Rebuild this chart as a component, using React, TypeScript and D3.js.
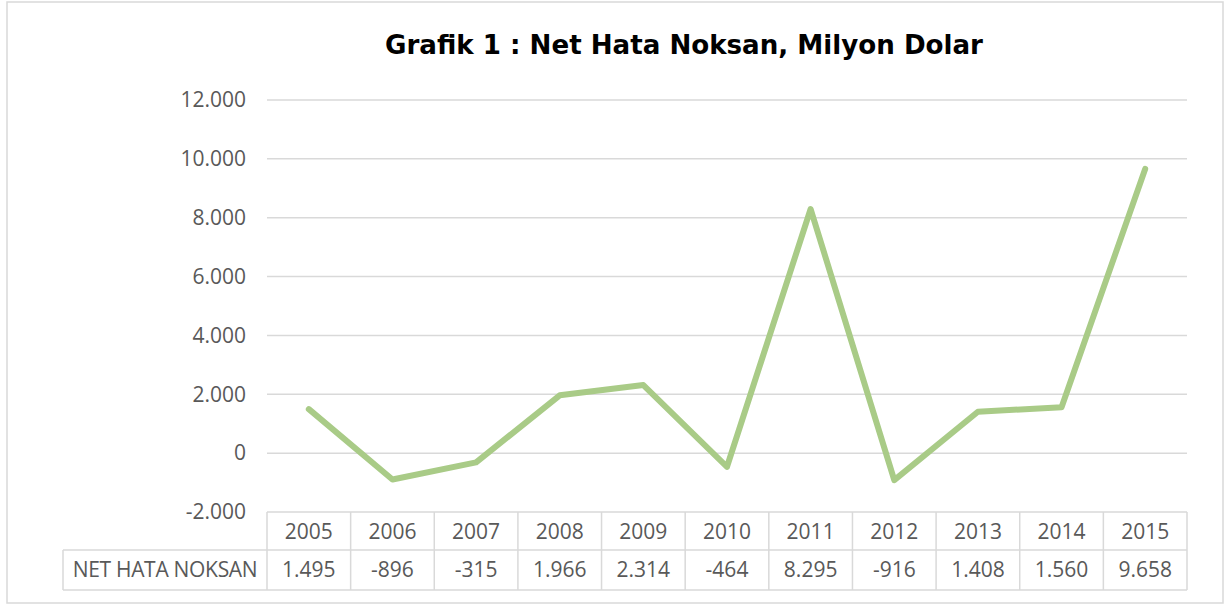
import React from "react";
import * as d3 from "d3";

const years = ["2005", "2006", "2007", "2008", "2009", "2010", "2011", "2012", "2013", "2014", "2015"];
const values = [1495, -896, -315, 1966, 2314, -464, 8295, -916, 1408, 1560, 9658];
const valueLabels = ["1.495", "-896", "-315", "1.966", "2.314", "-464", "8.295", "-916", "1.408", "1.560", "9.658"];
const yTicks = [-2000, 0, 2000, 4000, 6000, 8000, 10000, 12000];
const seriesName = "NET HATA NOKSAN";
const title = "Grafik 1 : Net Hata Noksan, Milyon Dolar";

const W = 1226;
const H = 606;
const plotLeft = 267;
const plotRight = 1187;
const plotTop = 100;
const plotBottom = 512;
const row1Bottom = 550;
const row2Bottom = 590;
const tableLeft = 63;

const fmt = (v: number) => {
  const s = Math.abs(v).toString().replace(/\B(?=(\d{3})+(?!\d))/g, ".");
  return (v < 0 ? "-" : "") + s;
};

export default function App() {
  const x = d3.scaleBand<string>().domain(years).range([plotLeft, plotRight]);
  const y = d3.scaleLinear().domain([-2000, 12000]).range([plotBottom, plotTop]);
  const line = d3
    .line<number>()
    .x((_, i) => (x(years[i]) as number) + x.bandwidth() / 2)
    .y((d) => y(d));

  const grid = "#D9D9D9";
  const txt = "#595959";
  const font = "'Open Sans', Calibri, sans-serif";

  return (
    <svg width={W} height={H} style={{ position: "absolute", left: 0, top: 0 }}>
      <rect x={0} y={0} width={W} height={H} fill="#fff" />
      <rect x={7} y={2} width={1216} height={601} fill="#fff" stroke={grid} strokeWidth={1.5} />
      <text
        x={385}
        y={54}
        fontFamily="'DejaVu Sans', Verdana, sans-serif"
        fontWeight="bold"
        fontSize={27}
        textLength={598}
        lengthAdjust="spacingAndGlyphs"
        fill="#000"
      >
        {title}
      </text>
      {yTicks.map((t) => (
        <g key={t}>
          {t > -2000 && (
            <line x1={plotLeft} x2={plotRight} y1={y(t)} y2={y(t)} stroke={grid} strokeWidth={1.5} />
          )}
          <text
            x={246}
            y={y(t)}
            dy="0.35em"
            textAnchor="end"
            fontFamily={font}
            fontSize={21}
            fill={txt}
          >
            {fmt(t)}
          </text>
        </g>
      ))}
      {/* data table */}
      <g stroke={grid} strokeWidth={1.5} fill="none">
        <line x1={plotLeft} x2={plotRight} y1={plotBottom} y2={plotBottom} />
        <line x1={tableLeft} x2={plotRight} y1={row1Bottom} y2={row1Bottom} />
        <line x1={tableLeft} x2={plotRight} y1={row2Bottom} y2={row2Bottom} />
        <line x1={tableLeft} x2={tableLeft} y1={row1Bottom} y2={row2Bottom} />
        {years.map((yr) => (
          <line key={yr} x1={x(yr)} x2={x(yr)} y1={plotBottom} y2={row2Bottom} />
        ))}
        <line x1={plotRight} x2={plotRight} y1={plotBottom} y2={row2Bottom} />
      </g>
      {years.map((yr, i) => (
        <g key={yr} fontFamily={font} fontSize={21} fill={txt} textAnchor="middle">
          <text x={(x(yr) as number) + x.bandwidth() / 2} y={(plotBottom + row1Bottom) / 2 + 1} dy="0.35em">
            {yr}
          </text>
          <text x={(x(yr) as number) + x.bandwidth() / 2} y={(row1Bottom + row2Bottom) / 2} dy="0.35em">
            {valueLabels[i]}
          </text>
        </g>
      ))}
      <text
        x={(tableLeft + plotLeft) / 2}
        y={(row1Bottom + row2Bottom) / 2}
        dy="0.35em"
        textAnchor="middle"
        fontFamily={font}
        fontSize={21}
        fill={txt}
        letterSpacing={-0.3}
      >
        {seriesName}
      </text>
      <path
        d={line(values) || ""}
        fill="none"
        stroke="#A9CB87"
        strokeWidth={6}
        strokeLinejoin="round"
        strokeLinecap="round"
      />
    </svg>
  );
}
